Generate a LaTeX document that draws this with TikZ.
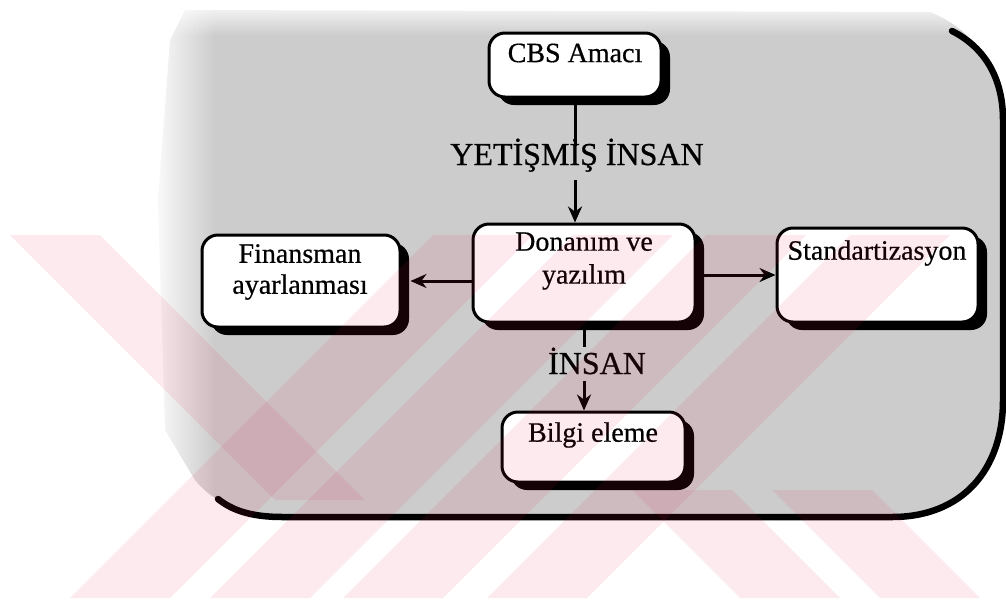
\documentclass[tikz,border=0pt]{standalone}
\usepackage{fontspec}
\setmainfont{Liberation Serif}[FakeBold=0.6]
\usetikzlibrary{arrows.meta,shadows,fadings}
\definecolor{panelgray}{RGB}{204,204,204}
\definecolor{markred}{RGB}{225,25,75}
% soft edges of the grey panel
\tikzfading[name=leftsolid, left color=transparent!0, right color=transparent!100]
\tikzfading[name=topsolid, top color=transparent!0, bottom color=transparent!100]
\begin{document}
\begin{tikzpicture}[x=1pt,y=-1pt,
  box/.style={draw=black, line width=3pt, fill=white, rounded corners=16pt, inner sep=0pt,
    drop shadow={fill=black, opacity=1, shadow xshift=9pt, shadow yshift=-8pt}},
  boxtext/.style={font=\fontsize{28}{31}\selectfont, inner sep=0pt, align=center},
  flowlabel/.style={font=\fontsize{32}{36}\selectfont, inner sep=0pt},
  link/.style={line width=3pt},
  arr/.style={link, -{Stealth[length=16pt,width=14pt]}},
  stripe/.style={fill=markred, fill opacity=0.09}]
\useasboundingbox (0,0) rectangle (1006,600);

% grey panel
\fill[panelgray] (185,10) -- (930,12) .. controls (975,30) and (1000,70) .. (1000,115)
  -- (1000,400) .. controls (1000,470) and (960,514) .. (890,514) -- (285,514)
  .. controls (245,514) and (215,505) .. (195,480) -- (165,430) -- (158,200) -- (170,40) -- cycle;
\fill[white, path fading=leftsolid] (150,0) rectangle (215,520);
\fill[white, path fading=topsolid] (150,0) rectangle (960,36);

% frame (shadow edge of the panel)
\draw[line width=6.5pt, line cap=round] (952,31) .. controls (982,46) and (1003,75) .. (1003,120)
  -- (1003,400) .. controls (1003,470) and (962,517) .. (892,517) -- (283,517)
  .. controls (250,517) and (232,510) .. (218,499);

% boxes
\node[box, minimum width=172pt, minimum height=64pt] (cbs) at (575,65) {};
\node[box, minimum width=222pt, minimum height=98pt] (don) at (584,273) {};
\node[box, minimum width=198pt, minimum height=92pt] (fin) at (301,281) {};
\node[box, minimum width=201pt, minimum height=94pt] (std) at (877.5,275) {};
\node[box, minimum width=183pt, minimum height=70pt] (bil) at (593.5,447) {};

% box texts
\node[boxtext] (cbsT) at (575,53) {CBS Amacı};
\node[boxtext, font=\fontsize{28}{33}\selectfont] (donT) at (584,261) {Donanım ve\\yazılım};
\node[boxtext] (finT) at (300,272) {Finansman\\ayarlanması};
\node[boxtext] (stdT) at (877,253) {Standartizasyon};
\node[boxtext] (bilT) at (593,435) {Bilgi eleme};

% connector labels
\node[flowlabel, anchor=base] (yet) at (577,165) {YETİŞMİŞ İNSAN};
\node[flowlabel, anchor=base] (ins) at (597,374) {İNSAN};

% connectors
\draw[link, shorten >=-8pt] (cbs.south) -- (cbs.south |- yet.north);
\draw[arr, shorten <=8pt] (cbs.south |- yet.south) -- (cbs.south |- don.north);
\draw[arr, shorten >=9pt] (don.west |- fin.east) -- (fin.east);
\draw[arr] (don.east |- std.west) -- (std.west);
\draw[link, shorten <=4pt] (don.south) -- (don.south |- ins.north);
\draw[arr, shorten <=6pt] (don.south |- ins.south) -- (don.south |- bil.north);

% faint watermark stripes
\begin{scope}
  \clip (0,235) rectangle (1006,598);
  \fill[stripe] (10,235) -- (100,235) -- (365,500) -- (275,500) -- cycle;
  \foreach \b in {70,210,343,487}
    \fill[stripe] (\b,598) -- (\b+100,598) -- (\b+463,235) -- (\b+363,235) -- cycle;
  \foreach \c in {740,880}
    \fill[stripe] (\c,598) -- (\c+100,598) -- (\c-8,490) -- (\c-108,490) -- cycle;
\end{scope}
\end{tikzpicture}
\end{document}
